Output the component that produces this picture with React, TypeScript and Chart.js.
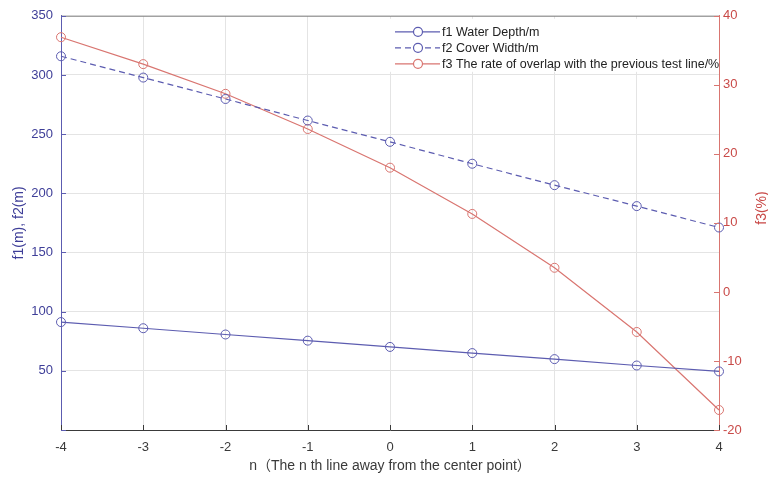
import React, { useEffect, useRef } from "react";
import { Chart, registerables } from "chart.js";

Chart.register(...registerables);

const nValues = [-4, -3, -2, -1, 0, 1, 2, 3, 4];
const f1Depth = [91.2, 86.0, 80.7, 75.5, 70.2, 65.0, 59.9, 54.5, 49.5];
const f2Width = [315.8, 297.8, 279.7, 261.5, 243.5, 225.0, 206.9, 189.2, 171.1];
const f3Overlap = [36.9, 33.0, 28.7, 23.6, 18.0, 11.3, 3.5, -5.8, -17.1];
const seriesLabels = [
  "f1 Water Depth/m",
  "f2 Cover Width/m",
  "f3 The rate of overlap with the previous test line/%",
];
const leftTitle = "f1(m), f2(m)";
const rightTitle = "f3(%)";
const bottomTitle = "n（The n th line away from the center point）";

const FONT = '"Liberation Sans", Arial, "Noto Sans CJK SC", sans-serif';
const BLUE_LINE = "#5c5cb0";
const BLUE_TEXT = "#3e3e98";
const RED_LINE = "#d97570";
const RED_TEXT = "#c94a48";
const DARK = "#3a3a3a";
const GRID = "#e4e4e4";

const toPts = (ys: number[]) => nValues.map((x, i) => ({ x, y: ys[i] }));

const decorPlugin = {
  id: "decor",
  afterDatasetsDraw(chart: any) {
    const { ctx, chartArea: a, scales } = chart;
    ctx.save();
    ctx.lineWidth = 1;
    // top border
    ctx.strokeStyle = "#8a8a8a";
    ctx.beginPath();
    ctx.moveTo(a.left, a.top + 0.5);
    ctx.lineTo(a.right, a.top + 0.5);
    ctx.stroke();
    // inward ticks
    const tl = 5;
    ctx.strokeStyle = BLUE_LINE;
    scales.y.ticks.forEach((t: any) => {
      const p = Math.round(scales.y.getPixelForValue(t.value)) + 0.5;
      ctx.beginPath();
      ctx.moveTo(a.left, p);
      ctx.lineTo(a.left + tl, p);
      ctx.stroke();
    });
    ctx.strokeStyle = RED_LINE;
    scales.y1.ticks.forEach((t: any) => {
      const p = Math.round(scales.y1.getPixelForValue(t.value)) + 0.5;
      ctx.beginPath();
      ctx.moveTo(a.right, p);
      ctx.lineTo(a.right - tl, p);
      ctx.stroke();
    });
    ctx.strokeStyle = DARK;
    scales.x.ticks.forEach((t: any) => {
      const p = Math.round(scales.x.getPixelForValue(t.value)) + 0.5;
      ctx.beginPath();
      ctx.moveTo(p, a.bottom);
      ctx.lineTo(p, a.bottom - tl);
      ctx.stroke();
    });

    // legend
    const lx = a.left + 325;
    const ly = a.top + 3;
    ctx.fillStyle = "#ffffff";
    ctx.fillRect(lx, ly, a.right - lx - 1, 53);
    const styles = [
      { color: BLUE_LINE, dash: [] as number[] },
      { color: BLUE_LINE, dash: [6, 4] },
      { color: RED_LINE, dash: [] as number[] },
    ];
    styles.forEach((s, i) => {
      const y = ly + 13 + i * 16;
      ctx.strokeStyle = s.color;
      ctx.lineWidth = 1.2;
      ctx.setLineDash(s.dash);
      ctx.beginPath();
      ctx.moveTo(lx + 9, y);
      ctx.lineTo(lx + 54, y);
      ctx.stroke();
      ctx.setLineDash([]);
      ctx.fillStyle = "#ffffff";
      ctx.beginPath();
      ctx.arc(lx + 32, y, 4.5, 0, Math.PI * 2);
      ctx.fill();
      ctx.stroke();
      ctx.fillStyle = "#222222";
      ctx.font = "12.5px " + FONT;
      ctx.textAlign = "left";
      ctx.textBaseline = "middle";
      ctx.fillText(seriesLabels[i], lx + 56, y + 0.5);
    });

    // right axis title (reads bottom to top)
    ctx.save();
    ctx.translate(762, 208);
    ctx.rotate(-Math.PI / 2);
    ctx.fillStyle = RED_TEXT;
    ctx.font = "14px " + FONT;
    ctx.textAlign = "center";
    ctx.textBaseline = "middle";
    ctx.fillText(rightTitle, 0, 0);
    ctx.restore();

    ctx.restore();
  },
};

export default function App() {
  const ref = useRef<HTMLCanvasElement | null>(null);

  useEffect(() => {
    if (!ref.current) return;
    Chart.defaults.font.family = FONT;
    const chart = new Chart(ref.current, {
      type: "line",
      data: {
        datasets: [
          {
            label: seriesLabels[0],
            data: toPts(f1Depth),
            yAxisID: "y",
            borderColor: BLUE_LINE,
            backgroundColor: "transparent",
            borderWidth: 1.2,
            pointRadius: 4.5,
            pointBorderWidth: 1,
            pointBorderColor: BLUE_LINE,
            pointBackgroundColor: "rgba(255,255,255,0)",
            tension: 0,
            clip: false as any,
          },
          {
            label: seriesLabels[1],
            data: toPts(f2Width),
            yAxisID: "y",
            borderColor: BLUE_LINE,
            borderDash: [6, 4],
            backgroundColor: "transparent",
            borderWidth: 1.2,
            pointRadius: 4.5,
            pointBorderWidth: 1,
            pointBorderColor: BLUE_LINE,
            pointBackgroundColor: "rgba(255,255,255,0)",
            tension: 0,
            clip: false as any,
          },
          {
            label: seriesLabels[2],
            data: toPts(f3Overlap),
            yAxisID: "y1",
            borderColor: RED_LINE,
            backgroundColor: "transparent",
            borderWidth: 1.2,
            pointRadius: 4.5,
            pointBorderWidth: 1,
            pointBorderColor: RED_LINE,
            pointBackgroundColor: "rgba(255,255,255,0)",
            tension: 0,
            clip: false as any,
          },
        ],
      },
      options: {
        animation: false,
        responsive: false,
        maintainAspectRatio: false,
        layout: { padding: { top: 12, left: 0, right: 0, bottom: 0 } },
        plugins: {
          legend: { display: false },
          tooltip: { enabled: false },
        },
        scales: {
          x: {
            type: "linear",
            min: -4,
            max: 4,
            ticks: {
              stepSize: 1,
              color: DARK,
              font: { size: 13 },
              padding: 10,
            },
            grid: { color: GRID, drawTicks: false },
            border: { color: DARK, width: 1 },
            title: {
              display: true,
              text: bottomTitle,
              color: DARK,
              font: { size: 14 },
              padding: { top: 4, bottom: 4 },
            },
            afterFit: (s: any) => {
              s.height = 49;
            },
          },
          y: {
            type: "linear",
            position: "left",
            min: 0,
            max: 350,
            ticks: {
              stepSize: 50,
              color: BLUE_TEXT,
              font: { size: 13 },
              padding: 8,
              callback: (v: any) => (v === 0 ? "" : String(v)),
            },
            grid: { color: GRID, drawTicks: false },
            border: { color: BLUE_LINE, width: 1 },
            title: {
              display: true,
              text: leftTitle,
              color: BLUE_TEXT,
              font: { size: 14 },
              padding: { top: 11, bottom: 0 },
            },
            afterFit: (s: any) => {
              s.width = 61;
            },
          },
          y1: {
            type: "linear",
            position: "right",
            min: -20,
            max: 40,
            ticks: {
              stepSize: 10,
              color: RED_TEXT,
              font: { size: 13 },
              padding: 4,
            },
            grid: { display: false, drawTicks: false },
            border: { color: RED_LINE, width: 1 },
            afterFit: (s: any) => {
              s.width = 49;
            },
          },
        },
      } as any,
      plugins: [decorPlugin],
    });
    return () => chart.destroy();
  }, []);

  return (
    <div style={{ position: "absolute", left: 0, top: 0, width: 768, height: 479, background: "#ffffff" }}>
      <canvas ref={ref} width={768} height={479} style={{ display: "block" }} />
    </div>
  );
}
